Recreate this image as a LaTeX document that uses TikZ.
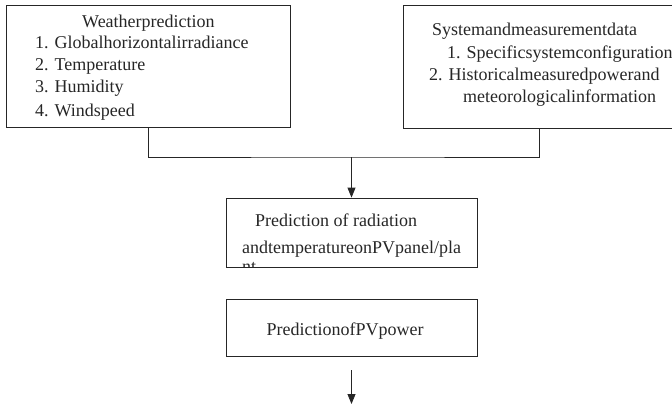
\documentclass[tikz,border=0pt]{standalone}
\usepackage{fontspec}
\setmainfont{Liberation Serif}
\usetikzlibrary{arrows.meta}

\begin{document}
\begin{tikzpicture}[
	x=1pt, y=-1pt,
	box/.style={draw=black!85, rectangle, line width=0.8pt, inner sep=0pt},
	txt/.style={anchor=base west, inner sep=0pt, font=\fontsize{18}{22}\selectfont, text=black!85},
	>={Triangle[length=10pt,width=8pt]}
	]
	
	\useasboundingbox (0,0) rectangle (672,405);
	
	%-----------------------
	% Customizable heights
	%-----------------------
	\def\hin{66}      % Row 1: input boxes
	\def\hsplit{157}  % junction line
	\def\hrad{232.5}  % Row 2: radiation box
	\def\hpow{327.5}  % Row 3: power box
	
	%-----------------------
	% Row 1: input boxes
	%-----------------------
	\node[box, minimum width=284, minimum height=122] (weather) at (148,\hin) {};
	\node[txt] (weather-0) at (82,27)  {Weatherprediction};
	\node[txt] (weather-1) at (35,48)  {1. Globalhorizontalirradiance};
	\node[txt] (weather-2) at (35,70)  {2. Temperature};
	\node[txt] (weather-3) at (35,92)  {3. Humidity};
	\node[txt] (weather-4) at (35,116) {4. Windspeed};
	
	\node[box, minimum width=272, minimum height=123] (system) at (539,66.5) {};
	\node[txt] (system-0) at (432,35)  {Systemandmeasurementdata};
	\node[txt] (system-1) at (447,58)  {1. Specificsystemconfiguration};
	\node[txt] (system-2) at (429,80)  {2. Historicalmeasuredpowerand};
	\node[txt] (system-3) at (463,102) {meteorologicalinformation};
	
	%-----------------------
	% Row 2: radiation box
	%-----------------------
	\node[box, minimum width=251, minimum height=69] (radiation) at (351.5,\hrad) {};
	\node[txt] (radiation-1) at (255,226) {Prediction of radiation};
	\node[txt] (radiation-2) at (242,253) {andtemperatureonPVpanel/pla};
	\begin{scope}
		\clip (radiation.south west) rectangle (radiation.north east);
		\node[txt] (radiation-3) at (242,272) {nt};
	\end{scope}
	
	%-----------------------
	% Row 3: power box
	%-----------------------
	\node[box, minimum width=251, minimum height=57] (power) at (351.5,\hpow) {};
	\node[txt, anchor=base] (power-1) at (345,335) {PredictionofPVpower};
	
	%-----------------------
	% Connections
	%-----------------------
	\tikzset{connect/.style={line width=0.8pt, draw=black!85}}
	
	\coordinate (split) at (351.5,\hsplit);
	\coordinate (out-a) at (351.5,370);
	\coordinate (out-b) at (351.5,404);
	
	% inputs -> junction
	\draw[connect] (weather.south) |- (split) -| (system.south);
	
	% junction -> radiation box
	\draw[connect,->] (split) -- (radiation.north);
	
	% power box -> output
	\draw[connect,->] (out-a) -- (out-b);
	
\end{tikzpicture}
\end{document}
